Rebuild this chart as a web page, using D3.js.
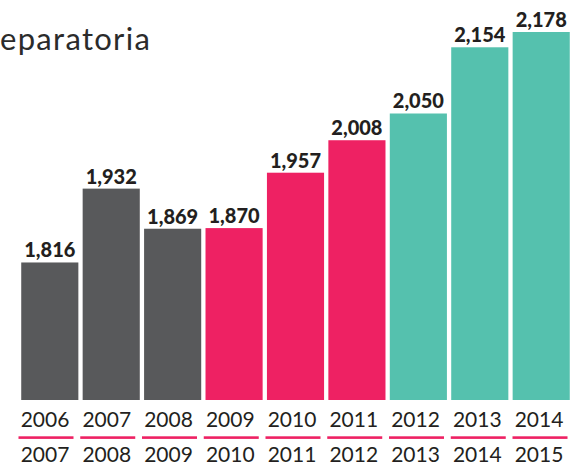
<!DOCTYPE html>
<html lang="es">
<head>
  <meta charset="utf-8" />
  <title>Preparatoria</title>
  <script src="https://unpkg.com/d3@7.9.0/dist/d3.min.js"></script>
  <style>
    html,body{margin:0;padding:0;background:#fff;overflow:hidden;}
    svg{display:block;font-family:Lato,"Open Sans",sans-serif;}
  </style>
</head>
<body>
<svg id="svg"></svg>
<script>
const width = 573, height = 462;

// datos
const startYears = ['2006','2007','2008','2009','2010','2011','2012','2013','2014'];
const endYears   = ['2007','2008','2009','2010','2011','2012','2013','2014','2015'];
const values     = [1816, 1932, 1869, 1870, 1957, 2008, 2050, 2154, 2178];
const groups     = ['a','a','a','b','b','b','c','c','c'];

const colors = {a:'#58595b', b:'#ee2163', c:'#55c1ae'};
const ink = '#231f20';

const svg = d3.select('#svg').attr('width', width).attr('height', height);

const x = d3.scaleBand().domain(startYears).range([20, 571]).paddingInner(0.07).paddingOuter(0.02);
const y = d3.scaleLinear().domain([1600, 2178]).range([400, 32]);
// etiquetas de años un poco corridas a la izquierda respecto a las barras
const xl = d3.scalePoint().domain(startYears).range([45, 539]);

// título (recortado en el original)
svg.append('text')
  .attr('x', 0).attr('y', 50)
  .attr('fill', '#2b2b2b')
  .style('font-size', '31px')
  .style('font-weight', '400')
  .style('letter-spacing', '1.3px')
  .text('eparatoria');

svg.selectAll('rect.bar')
  .data(values)
  .enter().append('rect')
    .attr('class', 'bar')
    .attr('x', (d,i) => x(startYears[i]))
    .attr('width', x.bandwidth())
    .attr('y', d => y(d))
    .attr('height', d => y.range()[0] - y(d))
    .attr('fill', (d,i) => colors[groups[i]]);

svg.selectAll('text.val')
  .data(values)
  .enter().append('text')
    .attr('class', 'val')
    .attr('x', (d,i) => x(startYears[i]) + x.bandwidth()/2)
    .attr('y', d => y(d) - 5)
    .attr('text-anchor', 'middle')
    .attr('fill', ink)
    .style('font-size', '20px')
    .style('font-weight', '900')
    .text(d => d3.format(',')(d));

svg.selectAll('text.y1')
  .data(startYears)
  .enter().append('text')
    .attr('class', 'y1')
    .attr('x', d => xl(d))
    .attr('y', 427)
    .attr('text-anchor', 'middle')
    .attr('fill', ink)
    .style('font-size', '21px')
    .text(d => d);

svg.selectAll('rect.line')
  .data(startYears)
  .enter().append('rect')
    .attr('class', 'line')
    .attr('x', d => xl(d) - 26.5)
    .attr('width', 55)
    .attr('y', 436.3)
    .attr('height', 2.6)
    .attr('fill', colors.b);

svg.selectAll('text.y2')
  .data(endYears)
  .enter().append('text')
    .attr('class', 'y2')
    .attr('x', (d,i) => xl(startYears[i]))
    .attr('y', 461.5)
    .attr('text-anchor', 'middle')
    .attr('fill', ink)
    .style('font-size', '21px')
    .text(d => d);
</script>
</body>
</html>
